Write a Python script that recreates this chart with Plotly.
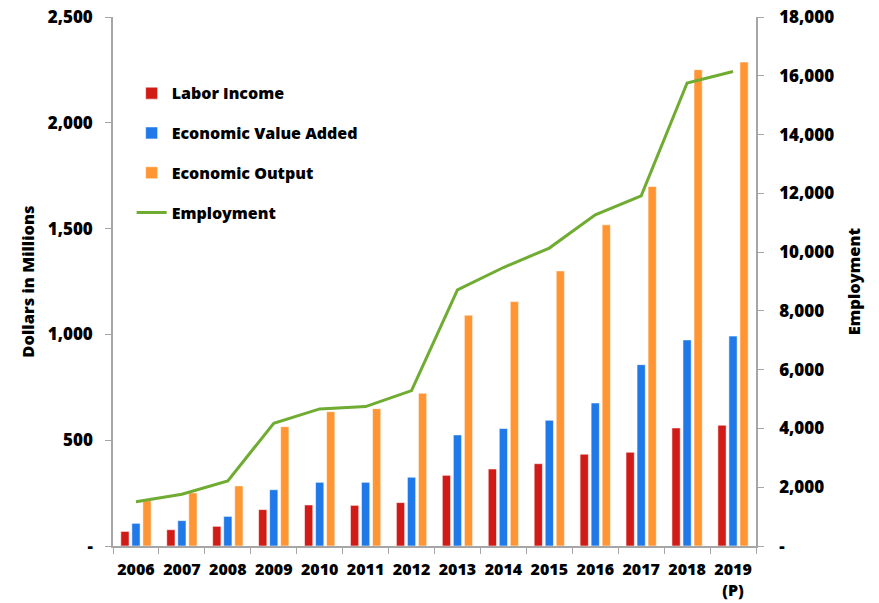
import plotly.graph_objects as go

# Annual impact figures (dollars in millions) and employment counts
years = ["2006", "2007", "2008", "2009", "2010", "2011", "2012",
         "2013", "2014", "2015", "2016", "2017", "2018", "2019<br>(P)"]
labor_income = [69, 77, 93, 172, 194, 192, 205, 334, 364, 389, 434, 443, 558, 571]
value_added = [107, 120, 140, 266, 301, 301, 325, 525, 555, 594, 676, 857, 974, 992]
economic_output = [214, 251, 284, 564, 635, 649, 722, 1091, 1155, 1300, 1518, 1699, 2251, 2287]
employment = [1508, 1760, 2213, 4178, 4665, 4743, 5288, 8717, 9476, 10137, 11271, 11916, 15753, 16148]

left_ticks = [0, 500, 1000, 1500, 2000, 2500]
left_labels = ["-", "500", "1,000", "1,500", "2,000", "2,500"]
right_ticks = list(range(0, 18001, 2000))
right_labels = ["-"] + [f"{v:,}" for v in right_ticks[1:]]

FONT = "Open Sans"
tick_font = dict(family=FONT, size=17, color="#000000", weight=800)
year_font = dict(family=FONT, size=16, color="#000000", weight=800)
title_font = dict(family=FONT, size=16.5, color="#000000", weight=800)
edge = dict(color="rgba(255,255,255,0.55)", width=1)

fig = go.Figure()
fig.add_bar(x=years, y=labor_income, name="Labor Income",
            marker=dict(color="#D01B17", line=edge), legendgroup="a")
fig.add_bar(x=years, y=value_added, name="Economic Value Added",
            marker=dict(color="#2079E8", line=edge), legendgroup="b")
fig.add_bar(x=years, y=economic_output, name="Economic Output",
            marker=dict(color="#FF9633", line=edge), legendgroup="c")
fig.add_scatter(x=years, y=employment, name="Employment", yaxis="y2",
                mode="lines", line=dict(color="#6FAC31", width=3),
                legendgroup="d")

axis_grey = "#A6A6A6"
fig.update_layout(
    width=879, height=603,
    margin=dict(l=113, r=123, t=17, b=57),
    paper_bgcolor="white", plot_bgcolor="white",
    barmode="group", bargap=0.28, bargroupgap=0.25,
    showlegend=True,
    legend=dict(x=0.029, y=0.888, xanchor="left", yanchor="top",
                bgcolor="rgba(0,0,0,0)", tracegroupgap=16,
                font=dict(family=FONT, size=16, color="#000000", weight=800),
                itemwidth=30),
    xaxis=dict(type="category", showgrid=False, showline=True,
               linecolor=axis_grey, linewidth=1.5, automargin=False,
               ticks="outside", tickson="boundaries", ticklen=6,
               tickcolor=axis_grey, tickfont=year_font, tickangle=0,
               ticklabelstandoff=8),
    yaxis=dict(range=[0, 2500], tickvals=left_ticks, ticktext=left_labels,
               showgrid=False, zeroline=False, showline=True,
               linecolor=axis_grey, linewidth=1.5, ticks="outside",
               ticklen=6, tickcolor=axis_grey, tickfont=tick_font,
               ticklabelstandoff=9, automargin=False,
               title=dict(text="Dollars in Millions", font=title_font, standoff=9)),
    yaxis2=dict(range=[0, 18000], tickvals=right_ticks, ticktext=right_labels,
                overlaying="y", side="right", showgrid=False, zeroline=False,
                showline=True, linecolor=axis_grey, linewidth=1.5,
                ticks="outside", ticklen=6, tickcolor=axis_grey,
                tickfont=tick_font, ticklabelstandoff=12, automargin=False,
                title=dict(text="Employment", font=title_font, standoff=15)),
)

fig.write_html("out.html")
